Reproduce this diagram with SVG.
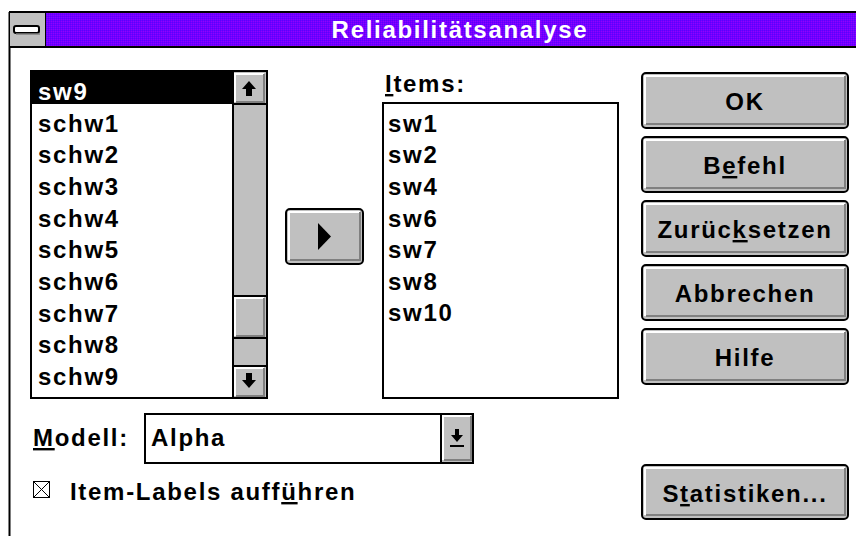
<svg xmlns="http://www.w3.org/2000/svg" width="856" height="536" viewBox="0 0 856 536">
<defs>
<style>
.t{font-family:"Liberation Sans",Arial,sans-serif;font-weight:bold;font-size:24px;letter-spacing:1.7px;fill:#000}
.w{fill:#fff}
.m{text-anchor:middle}
.u{text-decoration:underline}
.face{fill:#c0c0c0}
.hl{fill:none;stroke:#fff;stroke-width:2}
.sh{fill:none;stroke:#808080;stroke-width:2}
</style>
<pattern id="dith" width="2" height="2" patternUnits="userSpaceOnUse">
<rect width="2" height="2" fill="#7000ff"/>
<rect width="1" height="1" fill="#5a00ff"/>
<rect x="1" y="1" width="1" height="1" fill="#9000ff"/>
</pattern>
</defs>
<rect width="856" height="536" fill="#fff"/>
<g id="window">
<line x1="9.5" y1="12" x2="9.5" y2="536" stroke="#000" stroke-width="2"/>
<rect x="9" y="11" width="847" height="2" fill="#000"/>
<rect x="46" y="13" width="810" height="34" fill="url(#dith)"/>
<rect x="9" y="46" width="847" height="2" fill="#000"/>
<text class="t w m" x="460" y="38">Reliabilitätsanalyse</text>
</g>
<g id="control-menu">
<rect x="10" y="13" width="35" height="33" fill="#c0c0c0"/>
<line x1="45.5" y1="13" x2="45.5" y2="47" stroke="#000"/>
<rect x="14" y="26" width="25" height="7" rx="2" fill="#fff" stroke="#000" stroke-width="2"/>
<line x1="16" y1="34" x2="40" y2="34" stroke="#808080" stroke-width="1.5"/>
</g>
<g id="source-list">
<rect x="31" y="71" width="236" height="327" fill="#fff" stroke="#000" stroke-width="2"/>
<rect x="32" y="72" width="201" height="32" fill="#000"/>
<text class="t w" x="38" y="100">sw9</text>
<text class="t" x="38" y="132">schw1</text>
<text class="t" x="38" y="163">schw2</text>
<text class="t" x="38" y="195">schw3</text>
<text class="t" x="38" y="227">schw4</text>
<text class="t" x="38" y="258">schw5</text>
<text class="t" x="38" y="290">schw6</text>
<text class="t" x="38" y="322">schw7</text>
<text class="t" x="38" y="353">schw8</text>
<text class="t" x="38" y="385">schw9</text>
</g>
<g id="scrollbar">
<rect x="233" y="72" width="33" height="325" fill="#c0c0c0"/>
<line x1="233" y1="71" x2="233" y2="398" stroke="#000" stroke-width="2"/>
<line x1="233" y1="104" x2="266" y2="104" stroke="#000" stroke-width="2"/>
<path d="M235 102V74H264" class="hl"/>
<path d="M236 102H264V74" class="sh"/>
<path d="M249 81l-7 8h4v7h6v-7h4z" fill="#000"/>
<line x1="233" y1="296" x2="266" y2="296" stroke="#000" stroke-width="2"/>
<line x1="233" y1="338" x2="266" y2="338" stroke="#000" stroke-width="2"/>
<path d="M235 336V298H264" class="hl"/>
<path d="M236 336H264V298" class="sh"/>
<line x1="233" y1="366" x2="266" y2="366" stroke="#000" stroke-width="2"/>
<path d="M235 396V368H264" class="hl"/>
<path d="M236 396H264V368" class="sh"/>
<path d="M249 388l-7-8h4v-7h6v7h4z" fill="#000"/>
</g>
<g id="add-button">
<rect x="286" y="209" width="77" height="55" rx="4" class="face" stroke="#000" stroke-width="2"/>
<path d="M289 260V212H360" class="hl"/>
<path d="M290 260H360V212" class="sh"/>
<path d="M318 223v27l13-13.5z" fill="#000"/>
</g>
<g id="items-list">
<text class="t" x="385" y="92"><tspan class="u">I</tspan>tems:</text>
<rect x="383" y="103" width="235" height="295" fill="#fff" stroke="#000" stroke-width="2"/>
<text class="t" x="388" y="132">sw1</text>
<text class="t" x="388" y="163">sw2</text>
<text class="t" x="388" y="195">sw4</text>
<text class="t" x="388" y="227">sw6</text>
<text class="t" x="388" y="258">sw7</text>
<text class="t" x="388" y="290">sw8</text>
<text class="t" x="388" y="321">sw10</text>
</g>
<g id="btn-ok">
<rect x="642" y="73" width="206" height="55" rx="4" class="face" stroke="#000" stroke-width="2"/>
<path d="M645 124V76H845" class="hl"/><path d="M646 124H845V76" class="sh"/>
<text class="t m" x="745" y="110">OK</text>
</g>
<g id="btn-befehl">
<rect x="642" y="137" width="206" height="55" rx="4" class="face" stroke="#000" stroke-width="2"/>
<path d="M645 188V140H845" class="hl"/><path d="M646 188H845V140" class="sh"/>
<text class="t m" x="745" y="174">B<tspan class="u">e</tspan>fehl</text>
</g>
<g id="btn-zuruecksetzen">
<rect x="642" y="201" width="206" height="55" rx="4" class="face" stroke="#000" stroke-width="2"/>
<path d="M645 252V204H845" class="hl"/><path d="M646 252H845V204" class="sh"/>
<text class="t m" x="745" y="238">Zurüc<tspan class="u">k</tspan>setzen</text>
</g>
<g id="btn-abbrechen">
<rect x="642" y="265" width="206" height="55" rx="4" class="face" stroke="#000" stroke-width="2"/>
<path d="M645 316V268H845" class="hl"/><path d="M646 316H845V268" class="sh"/>
<text class="t m" x="745" y="302">Abbrechen</text>
</g>
<g id="btn-hilfe">
<rect x="642" y="329" width="206" height="55" rx="4" class="face" stroke="#000" stroke-width="2"/>
<path d="M645 380V332H845" class="hl"/><path d="M646 380H845V332" class="sh"/>
<text class="t m" x="745" y="366">Hilfe</text>
</g>
<g id="btn-statistiken">
<rect x="642" y="465" width="206" height="54" rx="4" class="face" stroke="#000" stroke-width="2"/>
<path d="M645 515V468H845" class="hl"/><path d="M646 515H845V468" class="sh"/>
<text class="t m" x="745" y="502">S<tspan class="u">t</tspan>atistiken...</text>
</g>
<g id="modell">
<text class="t" x="33" y="446"><tspan class="u">M</tspan>odell:</text>
<rect x="145" y="414" width="328" height="49" fill="#fff" stroke="#000" stroke-width="2"/>
<text class="t" x="151" y="446">Alpha</text>
<rect x="441" y="415" width="31" height="47" fill="#c0c0c0"/>
<line x1="441" y1="414" x2="441" y2="463" stroke="#000" stroke-width="2"/>
<path d="M443 460V416H471" class="hl"/><path d="M444 460H471V416" class="sh"/>
<path d="M457 442l-6-7h4v-6h4v6h4z" fill="#000"/>
<rect x="450" y="445" width="14" height="2" fill="#000"/>
</g>
<g id="checkbox">
<rect x="33.5" y="481.5" width="16" height="16" fill="#fff" stroke="#000"/>
<path d="M34 482L49 497M49 482L34 497" stroke="#000"/>
<text class="t" x="70" y="500">Item-Labels auff<tspan class="u">ü</tspan>hren</text>
</g>
</svg>
